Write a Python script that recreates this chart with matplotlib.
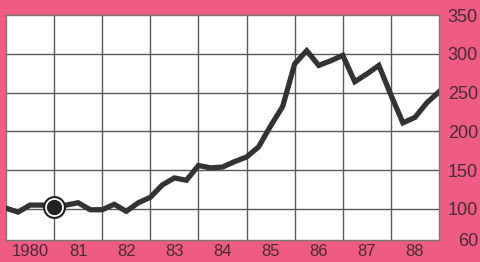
import numpy as np
import matplotlib.pyplot as plt

plt.rcParams['font.family'] = ['Liberation Sans', 'DejaVu Sans']

# quarterly index values, 1980 Q1 .. 1989 Q1
start_year = 1980
values = [101, 96, 105, 105, 103, 105, 108, 99, 99, 106, 97, 108,
          115, 131, 140, 137, 156, 153, 154, 161, 167, 180, 207, 232,
          287, 304, 285, 291, 298, 264, 274, 285, 247, 211, 218, 237, 251]
year_labels = ["1980", "81", "82", "83", "84", "85", "86", "87", "88"]
y_ticks = [60, 100, 150, 200, 250, 300, 350]
grid_y = [100, 150, 200, 250, 300]
marker_index = 4

x = start_year + np.arange(len(values)) / 4.0

pink = "#ee5c83"
fig = plt.figure(figsize=(4.8, 2.62), dpi=100, facecolor=pink)
ax = fig.add_axes([6/480, 1-240/262, (439-6)/480, (240-15)/262])
ax.set_facecolor("white")

for g in range(1981, 1989):
    ax.axvline(g, color="#5a5a5a", lw=1, zorder=1)
for g in grid_y:
    ax.axhline(g, color="#5a5a5a", lw=1, zorder=1)

ax.plot(x, values, color="#333333", lw=3.8, solid_joinstyle="miter", zorder=3)
ax.plot(x[marker_index], values[marker_index], "o", ms=15, mfc="white",
        mec="#222222", mew=1.5, zorder=4)
ax.plot(x[marker_index], values[marker_index], "o", ms=10, mfc="#222222",
        mec="#222222", zorder=5)

ax.set_xlim(1980, 1989)
ax.set_ylim(60, 350)

ax.set_xticks(np.arange(1980, 1989) + 0.5)
ax.set_xticklabels(year_labels)
ax.set_yticks(y_ticks)
ax.set_yticklabels([str(v) for v in y_ticks])
ax.tick_params(axis="x", length=0, pad=3, labelsize=12, colors="#4a2a38")
ax.tick_params(axis="y", length=0, pad=28, labelsize=13, colors="#4a2a38",
               left=False, labelleft=False, right=False, labelright=True)
for lab in ax.get_yticklabels():
    lab.set_ha("right")

for s in ax.spines.values():
    s.set_color("#777777")
    s.set_linewidth(1)

fig.savefig("out.png", dpi=100, facecolor=pink)
